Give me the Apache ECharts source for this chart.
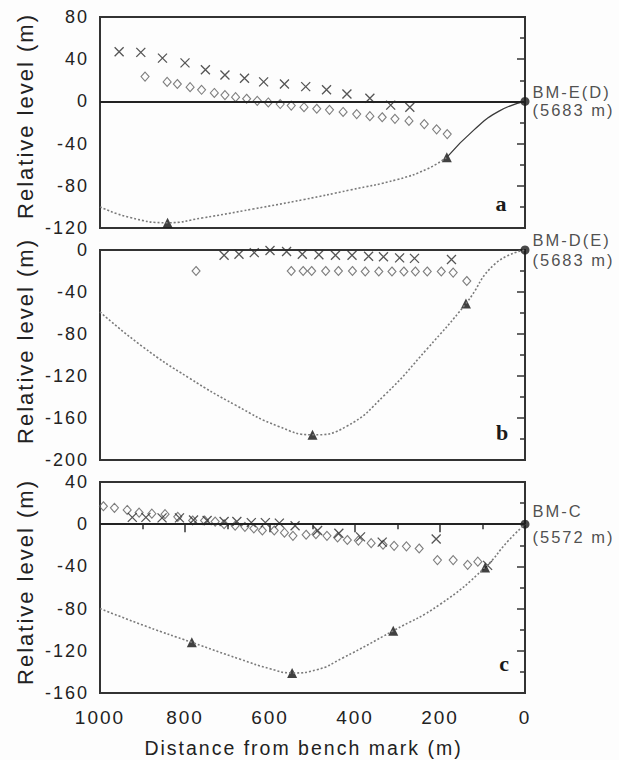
<!DOCTYPE html>
<html>
<head>
<meta charset="utf-8">
<title>Relative level profiles</title>
<script src="https://cdn.jsdelivr.net/npm/echarts@6/dist/echarts.min.js"></script>
<style>
    html, body { margin: 0; padding: 0; background: #fdfdfd; }
    /* the original lettering is widely tracked, the svg renderer lets css do that */
    #main { width: 619px; height: 760px; letter-spacing: 2px; }
</style>
</head>
<body>
<div id="main"></div>
<script>
// ---- panel a : BM-E(D) ----
var aCrossX = [955, 904, 853, 800, 752, 706, 660, 615, 566, 516, 467, 419, 365, 316, 271];
var aCrossY = [47, 46.5, 41, 36.5, 30, 25, 22, 18.5, 16.5, 14, 11, 7, 3, -3.5, -5.5];
var aDiamX = [894, 842, 818, 788, 761, 731, 706, 681, 655, 630, 604, 576, 550, 520, 490, 460, 428, 396, 365, 336, 306, 273, 237, 208, 183];
var aDiamY = [23.5, 18.5, 16.5, 13.5, 11, 8, 6, 4, 2.5, 0.5, -1, -2.5, -4, -5.5, -7, -8, -10, -12, -14, -15, -16.5, -18.5, -21.5, -26.5, -31];
var aBedX = [1000, 930, 841, 760, 640, 520, 412, 300, 230, 184];
var aBedY = [-100, -110, -115, -110.5, -102, -93, -84, -74, -64, -53];
var aLinkX = [184, 120, 60, 0];
var aLinkY = [-53, -27, -9, 0];
var aTriX = [841, 184];
var aTriY = [-115, -53];

// ---- panel b : BM-D(E) ----
var bCrossX = [708, 673, 637, 600, 561, 524, 485, 446, 407, 368, 333, 295, 260, 173];
var bCrossY = [-5, -4, -2.5, -0.5, -1.5, -4, -4.5, -5, -5, -6, -6.5, -7.5, -8, -9];
var bDiamX = [774, 550, 522, 502, 469, 439, 406, 376, 344, 313, 285, 258, 230, 197, 169, 137];
var bDiamY = [-20, -20, -20, -20, -20, -20, -20, -20.5, -20.5, -20.5, -20.5, -20.5, -20.5, -20.5, -21.5, -29.5];
var bBedX = [1000, 900, 790, 680, 580, 500, 420, 330, 230, 139, 70, 0];
var bBedY = [-59, -92, -122, -148, -168, -176, -168, -138, -94, -51, -13, 0];
var bTriX = [500, 139];
var bTriY = [-176, -51];

// ---- panel c : BM-C ----
var cCrossX = [924, 892, 854, 813, 780, 748, 708, 678, 644, 611, 578, 541, 488, 438, 387, 336, 209, 88];
var cCrossY = [6.5, 6.5, 6, 6, 4, 3.5, 2.5, 2.5, 1.5, 1.5, 1, -1.5, -6, -8.5, -12, -17, -14, -39];
var cDiamX = [992, 966, 936, 908, 878, 847, 817, 782, 754, 729, 708, 682, 659, 638, 618, 590, 566, 546, 515, 492, 466, 441, 418, 392, 362, 334, 308, 279, 249, 206, 169, 135, 111];
var cDiamY = [17, 15.5, 13.5, 11, 10, 9.5, 7, 3.5, 3.5, 2.5, 0, -1.5, -2.5, -4, -6, -6, -8, -11, -10, -9.5, -11, -12.5, -15, -15.5, -18, -19.5, -20.5, -21, -23, -34, -34, -38.5, -35.5];
var cBedX = [1000, 890, 784, 670, 600, 548, 490, 430, 310, 200, 94, 40, 0];
var cBedY = [-80, -97, -112, -128, -137, -141, -138, -127, -101, -76, -41, -16, 0];
var cTriX = [784, 548, 310, 94];
var cTriY = [-112, -141, -101, -41];

// bench marks and panel texts
var bmNames = ['BM-E(D)', 'BM-D(E)', 'BM-C'];
var bmElev = ['(5683 m)', '(5683 m)', '(5572 m)'];
var panelLetters = ['a', 'b', 'c'];
var yMin = [-120, -200, -160];
var yMax = [80, 0, 40];

var SANS = '"Liberation Sans", Arial, Helvetica, sans-serif';
var INK = '#222';

function pairs(xs, ys) {
    var out = [];
    for (var i = 0; i < xs.length; i++) {
        out.push([xs[i], ys[i]]);
    }
    return out;
}

var crossSymbol = 'path://M0,0L10,10M10,0L0,10';

var panels = [
    {cross: pairs(aCrossX, aCrossY), diam: pairs(aDiamX, aDiamY), bed: pairs(aBedX, aBedY), tri: pairs(aTriX, aTriY), link: pairs(aLinkX, aLinkY)},
    {cross: pairs(bCrossX, bCrossY), diam: pairs(bDiamX, bDiamY), bed: pairs(bBedX, bBedY), tri: pairs(bTriX, bTriY)},
    {cross: pairs(cCrossX, cCrossY), diam: pairs(cDiamX, cDiamY), bed: pairs(cBedX, cBedY), tri: pairs(cTriX, cTriY)}
];

var gridBoxes = [
    {top: 17, height: 211},
    {top: 250, height: 210},
    {top: 482, height: 211}
];
var namePad = [[0, 0, 0, 13], [0, 0, 0, 28], [0, 0, 0, 11]];
var bmLineHeight = [18, 20, 26];
var letterPos = [[502, 203], [503, 432], [505, 663]];

var grid = [], xAxis = [], yAxis = [], series = [], graphic = [];

for (var i = 0; i < 3; i++) {
    var last = (i === 2);
    grid.push({
        left: 100, width: 425, top: gridBoxes[i].top, height: gridBoxes[i].height,
        show: true, borderColor: '#333', borderWidth: 2, backgroundColor: 'transparent'
    });
    xAxis.push({
        gridIndex: i, type: 'value', min: 0, max: 1000, interval: 200, inverse: true,
        axisLine: {show: false},
        splitLine: {show: false},
        axisTick: {show: last, length: 8, lineStyle: {color: '#333', width: 1.5}},
        minorTick: {show: last, splitNumber: 2, length: 5, lineStyle: {color: '#333', width: 1.5}},
        axisLabel: {
            show: last, margin: 15, fontSize: 19, color: INK, fontFamily: SANS,
            formatter: function (v) { return String(v); }
        },
        name: last ? 'Distance from bench mark (m)' : '',
        nameLocation: 'middle', nameGap: 45,
        nameTextStyle: {fontSize: 19.5, color: INK, fontFamily: SANS, padding: [0, 18, 0, 0]}
    });
    yAxis.push({
        gridIndex: i, type: 'value', min: yMin[i], max: yMax[i], interval: 40,
        axisLine: {show: false},
        splitLine: {show: false},
        axisTick: {show: true, length: 8, lineStyle: {color: '#333', width: 1.5}},
        minorTick: {show: true, splitNumber: 2, length: 5, lineStyle: {color: '#333', width: 1.5}},
        axisLabel: {margin: 11, fontSize: 18, color: INK, fontFamily: SANS},
        name: 'Relative level (m)', nameLocation: 'middle', nameGap: 64,
        nameTextStyle: {fontSize: 22, color: INK, fontFamily: SANS, padding: namePad[i]}
    });

    var p = panels[i];
    // interpolated bed profile
    series.push({
        type: 'line', xAxisIndex: i, yAxisIndex: i, data: p.bed,
        smooth: 0.5, symbol: 'none',
        lineStyle: {color: '#7a7a7a', width: 1.6, type: [2, 2]}
    });
    if (p.link) {
        // solid part from the last sounding up to the bench mark
        series.push({
            type: 'line', xAxisIndex: i, yAxisIndex: i, data: p.link,
            smooth: 0.5, symbol: 'none',
            lineStyle: {color: '#3a3a3a', width: 1.3}
        });
    }
    series.push({
        type: 'scatter', xAxisIndex: i, yAxisIndex: i, data: p.diam,
        symbol: 'diamond', symbolSize: [8, 9],
        itemStyle: {color: 'transparent', borderColor: '#5e5e5e', borderWidth: 1.1}
    });
    series.push({
        type: 'scatter', xAxisIndex: i, yAxisIndex: i, data: p.cross,
        symbol: crossSymbol, symbolSize: 9,
        itemStyle: {color: 'transparent', borderColor: '#2a2a2a', borderWidth: 1.3},
        markLine: (i === 1) ? undefined : {
            silent: true, symbol: 'none', label: {show: false},
            lineStyle: {color: '#222', width: 1.8, type: 'solid'},
            data: [{yAxis: 0}]
        }
    });
    series.push({
        type: 'scatter', xAxisIndex: i, yAxisIndex: i, data: p.tri,
        symbol: 'triangle', symbolSize: [10, 10],
        itemStyle: {color: '#111'}
    });
    series.push({
        type: 'scatter', xAxisIndex: i, yAxisIndex: i, data: [[0, 0]],
        symbol: 'circle', symbolSize: 9,
        itemStyle: {color: '#1a1a1a'},
        label: {
            show: true, position: 'right', distance: 3,
            formatter: bmNames[i] + '\n' + bmElev[i],
            fontSize: 16.5, lineHeight: bmLineHeight[i], color: INK, fontFamily: SANS, align: 'left'
        }
    });

    graphic.push({
        type: 'text', x: letterPos[i][0], y: letterPos[i][1],
        style: {
            text: panelLetters[i], fill: '#1a1a1a',
            fontSize: 22, fontWeight: 'bold', fontFamily: '"Liberation Serif", "Times New Roman", serif',
            align: 'center', verticalAlign: 'middle', textAlign: 'center', textVerticalAlign: 'middle'
        }
    });
}

var chart = echarts.init(document.getElementById('main'), null, {renderer: 'svg'});
chart.setOption({
    backgroundColor: '#fdfdfd',
    animation: false,
    grid: grid,
    xAxis: xAxis,
    yAxis: yAxis,
    series: series,
    graphic: graphic
});
</script>
</body>
</html>
